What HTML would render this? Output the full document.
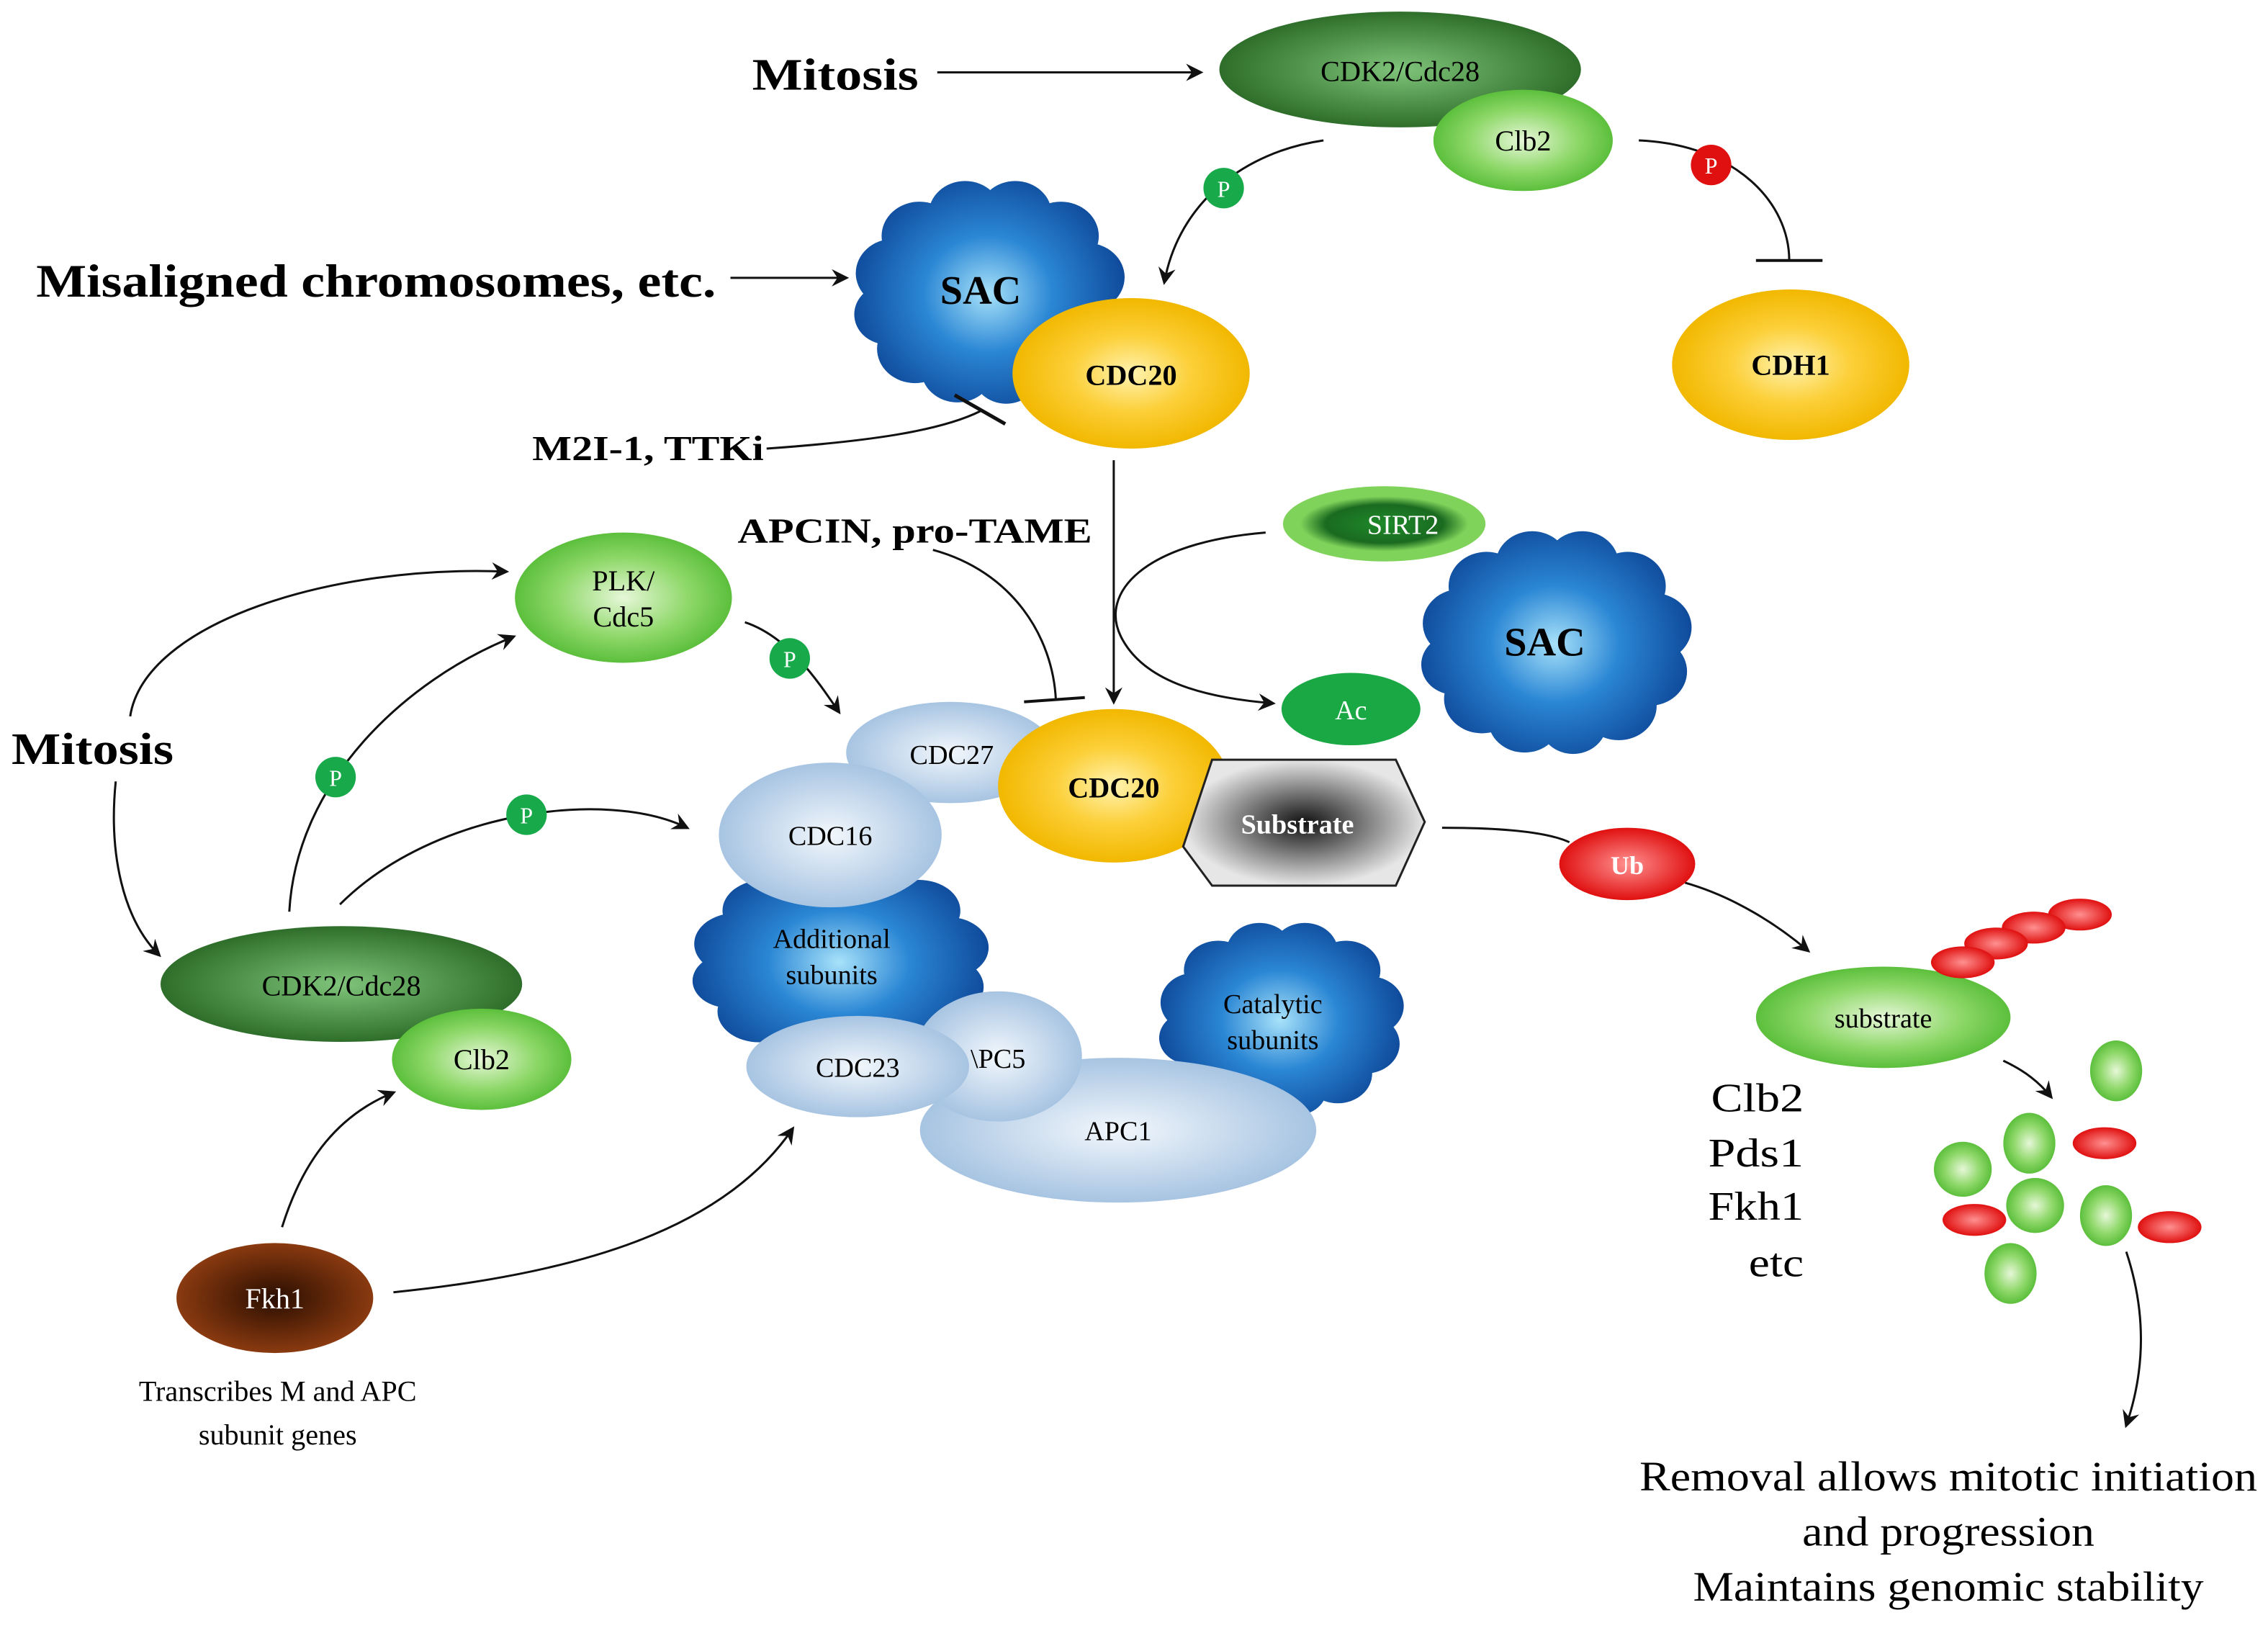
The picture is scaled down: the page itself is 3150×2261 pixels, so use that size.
<!DOCTYPE html>
<html><head><meta charset="utf-8">
<style>
html,body{margin:0;padding:0;background:#fff;}
svg{display:block;}
</style></head>
<body>
<svg width="3150" height="2261" viewBox="0 0 1568 1125" preserveAspectRatio="none" xmlns="http://www.w3.org/2000/svg" font-family="'Liberation Serif', 'Times New Roman', serif">
<defs>
<radialGradient id="dg" cx="50%" cy="50%" r="50%"><stop offset="0" stop-color="#7fc47a"/><stop offset="1" stop-color="#2e6e2a"/></radialGradient>
<radialGradient id="lg" cx="50%" cy="50%" r="50%"><stop offset="0" stop-color="#e6f7d8"/><stop offset="0.6" stop-color="#8fd86a"/><stop offset="1" stop-color="#5cbf3c"/></radialGradient>
<radialGradient id="yg" cx="50%" cy="50%" r="50%"><stop offset="0" stop-color="#fff3b0"/><stop offset="0.5" stop-color="#fcd03a"/><stop offset="1" stop-color="#f2b800"/></radialGradient>
<radialGradient id="bg" gradientUnits="userSpaceOnUse" cx="0" cy="0" r="95"><stop offset="0" stop-color="#a8e2fa"/><stop offset="0.45" stop-color="#2a86d4"/><stop offset="1" stop-color="#0d4596"/></radialGradient>
<radialGradient id="pb" cx="50%" cy="50%" r="50%"><stop offset="0" stop-color="#f2f7fc"/><stop offset="1" stop-color="#a7c4e2"/></radialGradient>
<radialGradient id="rg" cx="50%" cy="50%" r="50%"><stop offset="0" stop-color="#ff9090"/><stop offset="1" stop-color="#e01010"/></radialGradient>
<radialGradient id="br" cx="50%" cy="50%" r="50%"><stop offset="0" stop-color="#2a0e00"/><stop offset="1" stop-color="#8a3a10"/></radialGradient>
<radialGradient id="gr" cx="50%" cy="50%" r="50%"><stop offset="0" stop-color="#111"/><stop offset="1" stop-color="#e6e6e6"/></radialGradient>
<radialGradient id="sg" cx="50%" cy="50%" r="50%"><stop offset="0" stop-color="#1e8a2a"/><stop offset="0.7" stop-color="#1a6a20"/><stop offset="1" stop-color="#7fd35a"/></radialGradient>
<marker id="ar" markerWidth="12" markerHeight="12" refX="10" refY="6" orient="auto" markerUnits="userSpaceOnUse"><path d="M0,0 L12,6 L0,12 L4,6 z" fill="#111"/></marker>
<g id="cloud" fill="url(#bg)">
<circle cx="-62" cy="-15" r="25"/><circle cx="-45" cy="-42" r="25"/><circle cx="-15" cy="-58" r="24"/><circle cx="18" cy="-58" r="24"/><circle cx="48" cy="-42" r="25"/><circle cx="65" cy="-12" r="25"/><circle cx="62" cy="20" r="25"/><circle cx="42" cy="45" r="25"/><circle cx="12" cy="58" r="22"/><circle cx="-20" cy="55" r="24"/><circle cx="-48" cy="40" r="25"/><circle cx="-66" cy="15" r="22"/><circle cx="0" cy="0" r="60"/>
</g>
</defs>

<!-- top -->
<text x="520" y="62" font-size="31" font-weight="bold" textLength="115" lengthAdjust="spacingAndGlyphs">Mitosis</text>
<line x1="648" y1="50" x2="830" y2="50" stroke="#111" stroke-width="1.5" marker-end="url(#ar)"/>
<ellipse cx="968" cy="48" rx="125" ry="40" fill="url(#dg)"/>
<text x="968" y="56" font-size="20" text-anchor="middle">CDK2/Cdc28</text>
<ellipse cx="1053" cy="97" rx="62" ry="35" fill="url(#lg)"/>
<text x="1053" y="104" font-size="20" text-anchor="middle">Clb2</text>
<path d="M915,97 C860,105 815,140 805,195" fill="none" stroke="#111" stroke-width="1.5" marker-end="url(#ar)"/>
<circle cx="846" cy="130" r="14" fill="#17a94a"/><text x="846" y="136" font-size="16" fill="#fff" text-anchor="middle">P</text>
<path d="M1133,97 C1200,100 1237,140 1237,180" fill="none" stroke="#111" stroke-width="1.5"/>
<line x1="1214" y1="180" x2="1260" y2="180" stroke="#111" stroke-width="2"/>
<circle cx="1183" cy="114" r="14" fill="#e01010"/><text x="1183" y="120" font-size="16" fill="#fff" text-anchor="middle">P</text>
<ellipse cx="1238" cy="252" rx="82" ry="52" fill="url(#yg)"/>
<text x="1238" y="259" font-size="20" font-weight="bold" text-anchor="middle">CDH1</text>

<text x="25" y="205" font-size="32" font-weight="bold" textLength="470" lengthAdjust="spacingAndGlyphs">Misaligned chromosomes, etc.</text>
<line x1="505" y1="192" x2="585" y2="192" stroke="#111" stroke-width="1.5" marker-end="url(#ar)"/>
<g transform="translate(683,203) scale(1.05,0.95)"><use href="#cloud"/></g>
<text x="678" y="210" font-size="28" font-weight="bold" text-anchor="middle">SAC</text>
<ellipse cx="782" cy="258" rx="82" ry="52" fill="url(#yg)"/>
<text x="782" y="266" font-size="20" font-weight="bold" text-anchor="middle">CDC20</text>
<text x="368" y="318" font-size="24" font-weight="bold" textLength="160" lengthAdjust="spacingAndGlyphs">M2I-1, TTKi</text>
<path d="M530,310 C600,305 650,298 678,284" fill="none" stroke="#111" stroke-width="1.5"/>
<line x1="660" y1="273" x2="695" y2="293" stroke="#111" stroke-width="2.5"/>
<line x1="770" y1="318" x2="770" y2="485" stroke="#111" stroke-width="1.5" marker-end="url(#ar)"/>
<text x="510" y="375" font-size="24" font-weight="bold" textLength="245" lengthAdjust="spacingAndGlyphs">APCIN, pro-TAME</text>
<path d="M645,380 C700,395 728,440 730,484" fill="none" stroke="#111" stroke-width="1.5"/>
<line x1="708" y1="485" x2="750" y2="482" stroke="#111" stroke-width="2"/>

<ellipse cx="957" cy="362" rx="70" ry="26" fill="#7fd35a"/>
<ellipse cx="957" cy="362" rx="58" ry="19" fill="url(#sg)"/>
<text x="970" y="369" font-size="19" fill="#fff" text-anchor="middle">SIRT2</text>
<path d="M875,368 C790,375 760,410 775,440 C790,470 830,482 880,486" fill="none" stroke="#111" stroke-width="1.5" marker-end="url(#ar)"/>
<ellipse cx="934" cy="490" rx="48" ry="25" fill="#1aa845"/>
<text x="934" y="497" font-size="19" fill="#fff" text-anchor="middle">Ac</text>
<g transform="translate(1075,445) scale(1.05,0.95)"><use href="#cloud"/></g>
<text x="1068" y="453" font-size="28" font-weight="bold" text-anchor="middle">SAC</text>

<!-- left -->
<ellipse cx="431" cy="413" rx="75" ry="45" fill="url(#lg)"/>
<text x="431" y="408" font-size="20" text-anchor="middle">PLK/</text>
<text x="431" y="433" font-size="20" text-anchor="middle">Cdc5</text>
<text x="8" y="528" font-size="31" font-weight="bold" textLength="112" lengthAdjust="spacingAndGlyphs">Mitosis</text>
<path d="M90,495 C100,430 230,390 350,395" fill="none" stroke="#111" stroke-width="1.5" marker-end="url(#ar)"/>
<path d="M200,630 C205,540 280,470 355,440" fill="none" stroke="#111" stroke-width="1.5" marker-end="url(#ar)"/>
<path d="M80,540 C75,590 85,635 110,660" fill="none" stroke="#111" stroke-width="1.5" marker-end="url(#ar)"/>
<path d="M235,625 C300,560 420,545 475,572" fill="none" stroke="#111" stroke-width="1.5" marker-end="url(#ar)"/>
<path d="M515,430 C545,440 565,470 580,492" fill="none" stroke="#111" stroke-width="1.5" marker-end="url(#ar)"/>
<circle cx="232" cy="537" r="14" fill="#17a94a"/><text x="232" y="543" font-size="16" fill="#fff" text-anchor="middle">P</text>
<circle cx="364" cy="563" r="14" fill="#17a94a"/><text x="364" y="569" font-size="16" fill="#fff" text-anchor="middle">P</text>
<circle cx="546" cy="455" r="14" fill="#17a94a"/><text x="546" y="461" font-size="16" fill="#fff" text-anchor="middle">P</text>
<ellipse cx="236" cy="680" rx="125" ry="40" fill="url(#dg)"/>
<text x="236" y="688" font-size="20" text-anchor="middle">CDK2/Cdc28</text>
<ellipse cx="333" cy="732" rx="62" ry="35" fill="url(#lg)"/>
<text x="333" y="739" font-size="20" text-anchor="middle">Clb2</text>
<ellipse cx="190" cy="897" rx="68" ry="38" fill="url(#br)"/>
<text x="190" y="904" font-size="20" fill="#fff" text-anchor="middle">Fkh1</text>
<path d="M195,848 C210,800 235,770 272,755" fill="none" stroke="#111" stroke-width="1.5" marker-end="url(#ar)"/>
<path d="M272,893 C400,880 500,850 548,780" fill="none" stroke="#111" stroke-width="1.5" marker-end="url(#ar)"/>
<text x="192" y="968" font-size="20" text-anchor="middle">Transcribes M and APC</text>
<text x="192" y="998" font-size="20" text-anchor="middle">subunit genes</text>

<!-- APC complex -->
<g transform="translate(885,705) scale(0.95,0.82)"><use href="#cloud"/></g>
<text x="880" y="700" font-size="19" text-anchor="middle">Catalytic</text>
<text x="880" y="725" font-size="19" text-anchor="middle">subunits</text>
<ellipse cx="773" cy="781" rx="137" ry="50" fill="url(#pb)"/>
<text x="773" y="788" font-size="19" text-anchor="middle">APC1</text>
<g transform="translate(580,665) scale(1.15,0.85)"><use href="#cloud"/></g>
<text x="575" y="655" font-size="19" text-anchor="middle">Additional</text>
<text x="575" y="680" font-size="19" text-anchor="middle">subunits</text>
<ellipse cx="657" cy="520" rx="72" ry="35" fill="url(#pb)"/>
<text x="658" y="528" font-size="19" text-anchor="middle">CDC27</text>
<ellipse cx="574" cy="577" rx="77" ry="50" fill="url(#pb)"/>
<text x="574" y="584" font-size="19" text-anchor="middle">CDC16</text>
<ellipse cx="690" cy="730" rx="58" ry="45" fill="url(#pb)"/>
<ellipse cx="593" cy="737" rx="77" ry="35" fill="url(#pb)"/>
<text x="593" y="744" font-size="19" text-anchor="middle">CDC23</text>
<text x="690" y="738" font-size="19" text-anchor="middle">\PC5</text>
<ellipse cx="770" cy="543" rx="80" ry="53" fill="url(#yg)"/>
<text x="770" y="551" font-size="20" font-weight="bold" text-anchor="middle">CDC20</text>
<polygon points="838,525 965,525 985,568 965,612 838,612 818,585" fill="url(#gr)" stroke="#222" stroke-width="1.5"/>
<text x="897" y="576" font-size="19" font-weight="bold" fill="#fff" text-anchor="middle">Substrate</text>

<!-- right -->
<path d="M997,572 C1040,572 1070,575 1085,582" fill="none" stroke="#111" stroke-width="1.5"/>
<ellipse cx="1125" cy="597" rx="47" ry="25" fill="url(#rg)"/>
<text x="1125" y="604" font-size="18" font-weight="bold" fill="#fff" text-anchor="middle">Ub</text>
<path d="M1165,610 C1200,620 1230,640 1250,657" fill="none" stroke="#111" stroke-width="1.5" marker-end="url(#ar)"/>
<ellipse cx="1302" cy="703" rx="88" ry="35" fill="url(#lg)"/>
<text x="1302" y="710" font-size="19" text-anchor="middle">substrate</text>
<g fill="url(#rg)">
<ellipse cx="1438" cy="632" rx="22" ry="11"/><ellipse cx="1406" cy="641" rx="22" ry="11"/><ellipse cx="1380" cy="652" rx="22" ry="11"/><ellipse cx="1357" cy="665" rx="22" ry="11"/>
</g>
<g font-size="28" text-anchor="end" lengthAdjust="spacingAndGlyphs">
<text x="1247" y="768" textLength="64" lengthAdjust="spacingAndGlyphs">Clb2</text><text x="1247" y="806" textLength="66" lengthAdjust="spacingAndGlyphs">Pds1</text><text x="1247" y="843" textLength="66" lengthAdjust="spacingAndGlyphs">Fkh1</text><text x="1247" y="882" textLength="38" lengthAdjust="spacingAndGlyphs">etc</text>
</g>
<path d="M1385,733 C1400,740 1410,748 1418,758" fill="none" stroke="#111" stroke-width="1.5" marker-end="url(#ar)"/>
<g fill="url(#lg)">
<ellipse cx="1463" cy="740" rx="18" ry="21"/><ellipse cx="1403" cy="790" rx="18" ry="21"/><ellipse cx="1357" cy="808" rx="20" ry="19"/><ellipse cx="1407" cy="833" rx="20" ry="19"/><ellipse cx="1456" cy="840" rx="18" ry="21"/><ellipse cx="1390" cy="880" rx="18" ry="21"/>
</g>
<g fill="url(#rg)">
<ellipse cx="1455" cy="790" rx="22" ry="11"/><ellipse cx="1365" cy="843" rx="22" ry="11"/><ellipse cx="1500" cy="848" rx="22" ry="11"/>
</g>
<path d="M1470,865 C1485,910 1482,950 1470,985" fill="none" stroke="#111" stroke-width="1.5" marker-end="url(#ar)"/>
<g font-size="29" text-anchor="middle">
<text x="1347" y="1030" textLength="427" lengthAdjust="spacingAndGlyphs">Removal allows mitotic initiation</text>
<text x="1347" y="1068" textLength="202" lengthAdjust="spacingAndGlyphs">and progression</text>
<text x="1347" y="1106" textLength="353" lengthAdjust="spacingAndGlyphs">Maintains genomic stability</text>
</g>
</svg>
</body></html>
